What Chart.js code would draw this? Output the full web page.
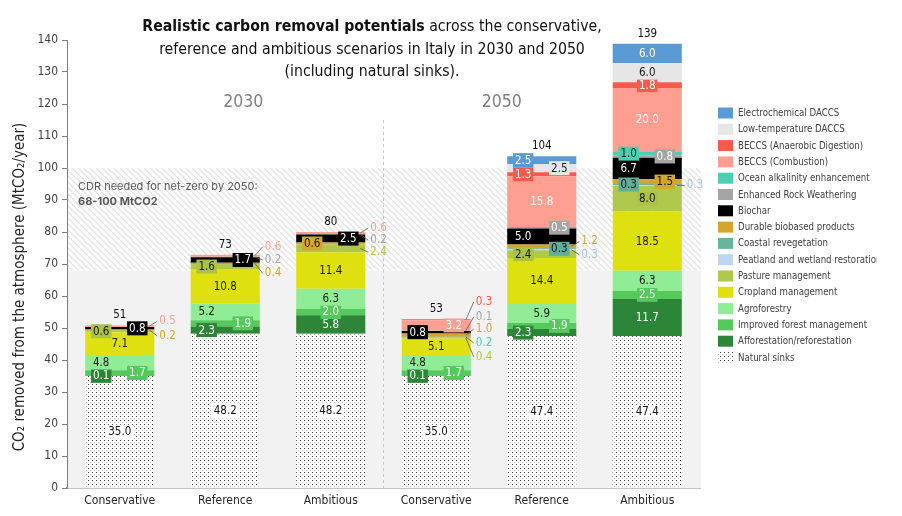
<!DOCTYPE html>
<html>
<head>
<meta charset="utf-8">
<script src="https://cdn.jsdelivr.net/npm/chart.js@4.4.1/dist/chart.umd.min.js"></script>
<style>
  html,body{margin:0;padding:0;background:#fff}
  #wrap{width:902px;height:516px}
</style>
</head>
<body>
<div id="wrap"><canvas id="c" width="902" height="516"></canvas></div>
<script>
// categories and values (MtCO2/year)
const categories = ['Conservative','Reference','Ambitious','Conservative','Reference','Ambitious'];
const periods = ['2030','2050'];
const cdrRange = [68, 100];

const naturalSinks   = [35.0, 48.2, 48.2, 35.0, 47.4, 47.4];
const afforestation  = [0.1, 2.3, 5.8, 0.1, 2.3, 11.7];
const improvedForest = [1.7, 1.9, 2.0, 1.7, 1.9, 2.5];
const agroforestry   = [4.8, 5.2, 6.3, 4.8, 5.9, 6.3];
const cropland       = [7.1, 10.8, 11.4, 5.1, 14.4, 18.5];
const pasture        = [0.6, 1.6, 2.4, 0.4, 2.4, 8.0];
const peatland       = [0, 0, 0, 0, 0.3, 0.3];
const coastal        = [0, 0, 0, 0.2, 0.3, 0.3];
const durable        = [0.2, 0.4, 0.6, 1.0, 1.2, 1.5];
const biochar        = [0.8, 1.7, 2.5, 0.8, 5.0, 6.7];
const rockWeathering = [0, 0.2, 0.2, 0.1, 0.5, 0.8];
const oceanAlk       = [0, 0, 0, 0, 0, 1.0];
const beccsComb      = [0.5, 0.6, 0.6, 3.2, 15.8, 20.0];
const beccsAD        = [0, 0, 0, 0.3, 1.3, 1.8];
const ltDaccs        = [0, 0, 0, 0, 2.5, 6.0];
const ecDaccs        = [0, 0, 0, 0, 2.5, 6.0];

// where each value label goes: c centre, l left, r right, number = outside with y shift
const labelPlace = {
  natural:  ['c','c','c','c','c','c'],
  affor:    ['l','l','c','l','l','c'],
  ifm:      ['r','r','c','r','r','c'],
  agro:     ['l','l','c','l','c','c'],
  crop:     ['c','c','c','c','c','c'],
  pasture:  ['l','l',4,19,'l','c'],
  peat:     [null,null,null,null,5,0],
  coastal:  [null,null,null,6,'r','l'],
  durable:  [6,10,'l',-6,-5,'r'],
  biochar:  ['r','r','r','l','l','l'],
  erw:      [null,3,6,-14,'r','r'],
  ocean:    [null,null,null,null,null,'l'],
  beccsC:   [-5,-9,-5,'r','c','c'],
  beccsAD:  [null,null,null,-18,'l','c'],
  lt:       [null,null,null,null,'r','c'],
  ec:       [null,null,null,null,'l','c']
};

const NARROW = "'Liberation Sans Narrow','DejaVu Sans Condensed','Roboto Condensed',Roboto,sans-serif";

function dotPattern(){
  const c=document.createElement('canvas'); c.width=4; c.height=4;
  const g=c.getContext('2d');
  g.fillStyle='#fff'; g.fillRect(0,0,4,4);
  g.fillStyle='#333'; g.fillRect(0,0,1,1);
  g.fillStyle='#bbb'; g.fillRect(2,2,1,1);
  return g.createPattern(c,'repeat');
}
function hatchPattern(){
  const c=document.createElement('canvas'); c.width=6; c.height=6;
  const g=c.getContext('2d');
  g.fillStyle='#fff'; g.fillRect(0,0,6,6);
  g.strokeStyle='#e2e2e2'; g.lineWidth=1.3;
  g.beginPath();
  g.moveTo(-1,-1); g.lineTo(7,7);
  g.moveTo(-4,2); g.lineTo(4,10);
  g.moveTo(2,-4); g.lineTo(10,4);
  g.stroke();
  return g.createPattern(c,'repeat');
}
const dots = dotPattern();
const hatch = hatchPattern();

function series(label, data, color, key, text, box, out){
  return {label, data, backgroundColor:color, key,
    textColor:text, boxColor:box||color, outColor:out||color, borderWidth:0};
}

const datasets = [
  series('Natural sinks', naturalSinks, dots, 'natural', '#111', '#fff'),
  series('Afforestation/reforestation', afforestation, '#2d8538', 'affor', '#fff'),
  series('Improved forest management', improvedForest, '#54c95c', 'ifm', '#fff'),
  series('Agroforestry', agroforestry, '#90ec95', 'agro', '#1a1a1a'),
  series('Cropland management', cropland, '#dfe010', 'crop', '#1a1a1a'),
  series('Pasture management', pasture, '#b0c94c', 'pasture', '#1a1a1a', '#a9c247'),
  series('Peatland and wetland restoration', peatland, '#bdd7f2', 'peat', '#1a1a1a', null, '#9fc5ec'),
  series('Coastal revegetation', coastal, '#66b59c', 'coastal', '#1a1a1a', '#5fae97', '#4ccfb0'),
  series('Durable biobased products', durable, '#d4a72c', 'durable', '#1a1a1a'),
  series('Biochar', biochar, '#000000', 'biochar', '#fff'),
  series('Enhanced Rock Weathering', rockWeathering, '#a5a5a5', 'erw', '#fff', null, '#a5a5a5'),
  series('Ocean alkalinity enhancement', oceanAlk, '#4ccfb0', 'ocean', '#1a1a1a'),
  series('BECCS (Combustion)', beccsComb, '#fe9f92', 'beccsC', '#fff'),
  series('BECCS (Anaerobic Digestion)', beccsAD, '#fa5a4b', 'beccsAD', '#fff'),
  series('Low-temperature DACCS', ltDaccs, '#e6e6e6', 'lt', '#1a1a1a'),
  series('Electrochemical DACCS', ecDaccs, '#5b9bd5', 'ec', '#fff')
];

// shaded CDR band, grey floor and 2030/2050 divider
const backdrop = {
  id:'backdrop',
  beforeDatasetsDraw(chart){
    const {ctx, chartArea:a, scales:{x,y}} = chart;
    const yLow = y.getPixelForValue(cdrRange[0]), yHigh = y.getPixelForValue(cdrRange[1]);
    ctx.save();
    ctx.fillStyle='#f2f2f2'; ctx.fillRect(a.left+1, yLow, a.width, a.bottom-yLow);
    ctx.fillStyle=hatch; ctx.fillRect(a.left+1, yHigh, a.width, yLow-yHigh);
    const xd = (x.getPixelForValue(2)+x.getPixelForValue(3))/2;
    ctx.strokeStyle='#c8c8c8'; ctx.lineWidth=1; ctx.setLineDash([3,3]);
    ctx.beginPath(); ctx.moveTo(xd, y.getPixelForValue(115)); ctx.lineTo(xd, a.bottom); ctx.stroke();
    ctx.setLineDash([]);
    // period headings
    ctx.fillStyle='#7f7f7f'; ctx.font='17.5px '+NARROW; ctx.textAlign='center'; ctx.textBaseline='middle';
    ctx.fillText(periods[0], x.getPixelForValue(1)+18, y.getPixelForValue(120.5));
    ctx.fillText(periods[1], x.getPixelForValue(4)-40, y.getPixelForValue(120.5));
    // CDR note
    ctx.textAlign='left'; ctx.fillStyle='#595959';
    ctx.font="11px Inter, 'Open Sans', sans-serif";
    ctx.fillText('CDR needed for net-zero by 2050:', a.left+11, y.getPixelForValue(94.3));
    ctx.font="bold 11px Inter, 'Open Sans', sans-serif";
    ctx.fillText(cdrRange[0]+'-'+cdrRange[1]+' MtCO2', a.left+11, y.getPixelForValue(89.6));
    ctx.restore();
  }
};

const segLabels = {
  id:'segLabels',
  afterDatasetsDraw(chart){
    const ctx = chart.ctx;
    ctx.save();
    ctx.font = '11.5px '+NARROW;
    ctx.textBaseline = 'middle';
    chart.data.datasets.forEach((ds, di) => {
      const meta = chart.getDatasetMeta(di);
      const where = labelPlace[ds.key];
      meta.data.forEach((bar, i) => {
        const v = ds.data[i], p = where[i];
        if (!v || p === null || p === undefined) return;
        const half = bar.width/2, left = bar.x-half, right = bar.x+half;
        const cy = (bar.y+bar.base)/2;
        const txt = v.toFixed(1);
        if (typeof p === 'number') {
          const ty = cy+p;
          ctx.strokeStyle='#595959'; ctx.lineWidth=0.8;
          ctx.beginPath(); ctx.moveTo(right-5, cy); ctx.lineTo(right+3, ty); ctx.stroke();
          ctx.fillStyle=ds.outColor; ctx.textAlign='left';
          ctx.fillText(txt, right+5, ty);
          return;
        }
        const tx = p==='l' ? left+16 : p==='r' ? right-17 : bar.x;
        const w = ctx.measureText(txt).width;
        ctx.fillStyle=ds.boxColor;
        ctx.fillRect(tx-w/2-2, cy-7, w+4, 14);
        ctx.fillStyle=ds.textColor; ctx.textAlign='center';
        ctx.fillText(txt, tx, cy+0.5);
      });
    });
    // totals above bars
    const y = chart.scales.y;
    const first = chart.getDatasetMeta(0).data;
    categories.forEach((c, i) => {
      const sum = chart.data.datasets.reduce((s, ds) => s+ds.data[i], 0);
      ctx.fillStyle='#111'; ctx.textAlign='center';
      ctx.fillText(String(Math.round(sum)), first[i].x, y.getPixelForValue(sum)-10);
    });
    ctx.restore();
  }
};

// title, y title and legend
const frame = {
  id:'frame',
  afterDraw(chart){
    const {ctx} = chart;
    ctx.save();
    ctx.textBaseline='middle';
    const cx = 372, fs = '15.7px ';
    const boldPart = 'Realistic carbon removal potentials', rest = ' across the conservative,';
    ctx.font='bold '+fs+NARROW;
    const wb = ctx.measureText(boldPart).width;
    ctx.font=fs+NARROW;
    const wr = ctx.measureText(rest).width;
    const sx = cx-(wb+wr)/2;
    ctx.fillStyle='#111'; ctx.textAlign='left';
    ctx.font='bold '+fs+NARROW; ctx.fillText(boldPart, sx, 27);
    ctx.font=fs+NARROW; ctx.fillText(rest, sx+wb, 27);
    ctx.textAlign='center';
    ctx.fillText('reference and ambitious scenarios in Italy in 2030 and 2050', cx, 50);
    ctx.fillText('(including natural sinks).', cx, 72);

    // y axis title
    ctx.save();
    ctx.translate(20, 287); ctx.rotate(-Math.PI/2);
    ctx.font='15px '+NARROW; ctx.fillStyle='#262626'; ctx.textAlign='center';
    ctx.fillText('CO\u2082 removed from the atmosphere (MtCO\u2082/year)', 0, 0);
    ctx.restore();

    // legend, top entry = last stacked series
    const items = chart.data.datasets.slice().reverse();
    ctx.beginPath(); ctx.rect(710, 100, 167, 280); ctx.clip();
    ctx.font='9.6px '+NARROW; ctx.textAlign='left';
    items.forEach((ds, k) => {
      const yy = 113+k*16.3;
      ctx.fillStyle=ds.backgroundColor; ctx.fillRect(718, yy-5.5, 15, 11);
      ctx.fillStyle='#404040'; ctx.fillText(ds.label, 738, yy+0.5);
    });
    ctx.restore();
  }
};

new Chart(document.getElementById('c'), {
  type:'bar',
  data:{labels:categories, datasets},
  options:{
    responsive:false,
    animation:false,
    layout:{padding:{top:40, right:202, left:0, bottom:0}},
    datasets:{bar:{categoryPercentage:1, barPercentage:0.655}},
    plugins:{legend:{display:false}, tooltip:{enabled:false}, title:{display:false}},
    scales:{
      x:{
        stacked:true,
        grid:{display:false, drawTicks:false},
        border:{display:true, color:'#8c8c8c', width:1.5, dash:[8,3]},
        ticks:{color:'#262626', font:{size:12, family:NARROW}, padding:6, maxRotation:0},
        afterFit(s){ s.height = 28; }
      },
      y:{
        stacked:true, min:0, max:140,
        grid:{drawOnChartArea:false, drawTicks:true, tickLength:5, color:'#7f7f7f'},
        border:{color:'#7f7f7f'},
        ticks:{stepSize:10, color:'#404040', font:{size:12, family:NARROW}, padding:4},
        afterFit(s){ s.width = 67; }
      }
    }
  },
  plugins:[backdrop, segLabels, frame]
});
</script>
</body>
</html>
